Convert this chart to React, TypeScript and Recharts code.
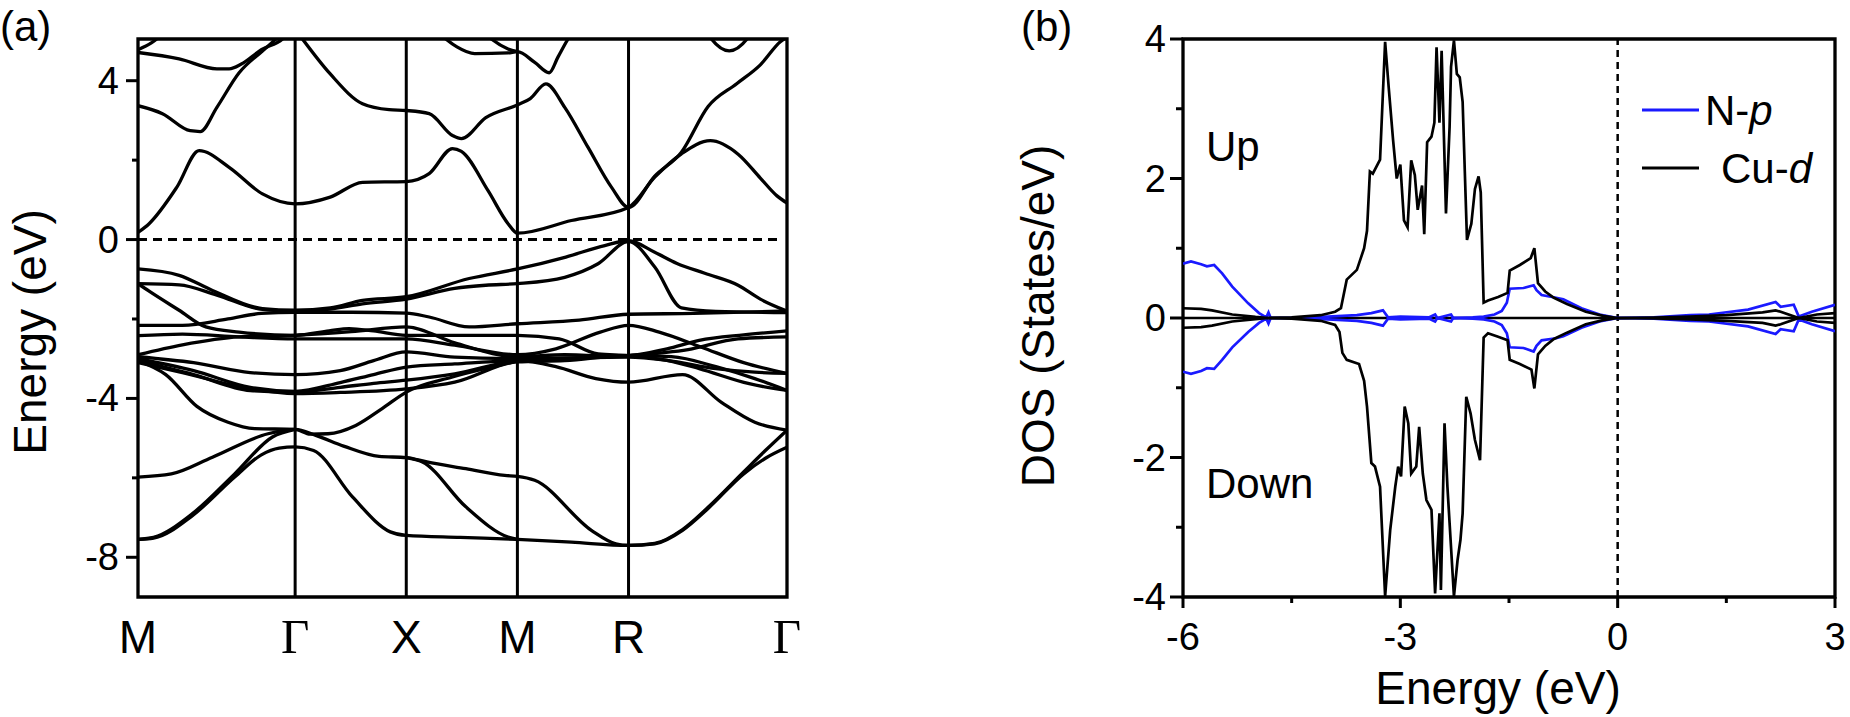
import React from 'react';
import { LineChart, Line, XAxis, YAxis, ReferenceLine, ReferenceArea, Legend } from 'recharts';

type Pt = [number, number];

const FONT = '"Liberation Sans", Arial, sans-serif';
const SERIF = '"Liberation Serif", "Times New Roman", serif';
const BLUE = '#1a1aff';

// ---------- (a) band structure ----------
// k-path positions of the high-symmetry points, as spaced in the figure
const K_POS = [0, 1.414, 2.414, 3.414, 4.414, 5.84];
const K_LABELS = ['M', 'Γ', 'X', 'M', 'R', 'Γ'];
const E_TICKS = [-8, -6, -4, -2, 0, 2, 4];

// conduction side
const C1: Pt[] = [[0,0.18],[0.1,0.4],[0.35,1.32],[0.55,2.24],[0.82,1.82],[1.12,1.15],[1.414,0.9],[1.73,1.07],[2.02,1.44],[2.414,1.46],[2.62,1.66],[2.83,2.29],[2.91,2.22],[3.15,1.23],[3.33,0.4],[3.414,0.16],[3.9,0.48],[4.414,0.81],[4.65,1.57],[4.89,2.16],[5.15,2.49],[5.4,2.15],[5.6,1.55],[5.75,1.1],[5.84,0.92]];
const U_B: Pt[] = [[0,3.37],[0.22,3.17],[0.47,2.74],[0.56,2.72],[0.71,3.33],[0.91,4.2],[1.12,4.75],[1.24,5.05],[1.32,5.3]];
const U_A: Pt[] = [[0,4.71],[0.37,4.55],[0.71,4.3],[0.82,4.3],[0.93,4.42],[1.11,4.78],[1.3,5.05],[1.37,5.25]];
const U_C: Pt[] = [[0,4.78],[0.12,4.95],[0.25,5.25]];
const U_TOP: Pt[] = [[1.414,5.3],[1.48,5.05],[1.73,4.17],[2.02,3.42],[2.26,3.27],[2.414,3.25],[2.62,3.17],[2.83,2.62],[2.91,2.54],[3.13,3.07],[3.414,3.39],[3.53,3.55],[3.67,3.92],[3.84,3.33],[4.05,2.32],[4.26,1.32],[4.414,0.81],[4.65,1.6],[4.89,2.2],[5.13,3.35],[5.39,3.93],[5.6,4.4],[5.78,4.98],[5.84,5.1]];
const U_XM: Pt[] = [[2.67,5.3],[2.77,5.05],[2.87,4.85],[3.03,4.68],[3.33,4.7],[3.414,4.73],[3.57,4.46],[3.7,4.2],[3.78,4.6],[3.87,5.05],[3.93,5.3]];
const U_M: Pt[] = [[3.08,5.3],[3.18,5.05],[3.33,4.8],[3.414,4.73]];
const U_RG: Pt[] = [[5.1,5.3],[5.16,5.05],[5.32,4.75],[5.48,5.05],[5.54,5.3]];

// valence side
const B1: Pt[] = [[0,-0.74],[0.37,-0.9],[0.67,-1.28],[1.12,-1.74],[1.414,-1.78],[1.73,-1.72],[2.02,-1.53],[2.414,-1.44],[2.98,-0.98],[3.414,-0.74],[3.85,-0.44],[4.2,-0.15],[4.414,-0.03],[4.65,-0.32],[4.85,-0.6],[5.1,-0.85],[5.4,-1.15],[5.6,-1.5],[5.84,-1.8]];
const B2: Pt[] = [[0,-1.11],[0.37,-1.14],[0.71,-1.4],[1.12,-1.76],[1.414,-1.8],[1.73,-1.75],[2.02,-1.62],[2.414,-1.5],[2.85,-1.23],[3.13,-1.15],[3.414,-1.11],[3.84,-0.95],[4.14,-0.61],[4.414,-0.05],[4.65,-0.69],[4.89,-1.72],[5.2,-1.81],[5.84,-1.84]];
const B3: Pt[] = [[0,-1.11],[0.1,-1.3],[0.37,-1.78],[0.61,-2.2],[0.91,-2.33],[1.414,-2.41],[1.72,-2.3],[1.9,-2.24],[2.12,-2.3],[2.414,-2.41],[2.85,-2.41],[3.414,-2.41],[3.79,-2.5],[4.14,-2.88],[4.414,-2.92],[4.76,-3.04],[5.05,-3.25],[5.5,-3.63],[5.84,-3.8]];
const B4: Pt[] = [[0,-2.16],[0.4,-2.16],[0.81,-2.0],[1.11,-1.86],[1.414,-1.83],[1.92,-1.83],[2.414,-1.85],[2.62,-1.95],[2.98,-2.2],[3.414,-2.12],[3.97,-2.03],[4.414,-1.88],[5.0,-1.86],[5.84,-1.8]];
const B5: Pt[] = [[0,-2.42],[0.4,-2.38],[0.91,-2.45],[1.414,-2.5],[1.92,-2.5],[2.414,-2.5],[2.85,-2.66],[3.414,-2.9],[3.76,-2.75],[4.16,-2.33],[4.414,-2.16],[4.69,-2.33],[5.07,-2.71],[5.45,-3.1],[5.84,-3.37]];
const B6: Pt[] = [[0,-2.9],[0.4,-2.65],[0.91,-2.45],[1.414,-2.41],[1.92,-2.32],[2.414,-2.2],[2.85,-2.6],[3.414,-2.95],[3.84,-2.9],[4.14,-2.92],[4.414,-2.92],[4.76,-2.75],[5.05,-2.54],[5.45,-2.4],[5.84,-2.3]];
const B7: Pt[] = [[0,-2.95],[0.5,-3.1],[1.01,-3.35],[1.414,-3.4],[1.82,-3.3],[2.12,-3.05],[2.414,-2.83],[2.85,-2.96],[3.414,-3.0],[3.84,-2.98],[4.414,-2.96],[4.76,-3.04],[5.2,-3.25],[5.55,-3.34],[5.84,-3.37]];
const B8: Pt[] = [[0,-3.0],[0.5,-3.3],[1.01,-3.72],[1.414,-3.82],[1.82,-3.6],[2.12,-3.4],[2.414,-3.21],[2.85,-3.13],[3.414,-3.05],[3.76,-3.2],[4.12,-3.5],[4.414,-3.59],[4.9,-3.4],[5.25,-4.1],[5.55,-4.6],[5.84,-4.8]];
const B9: Pt[] = [[0,-3.05],[0.5,-3.4],[1.01,-3.8],[1.414,-3.84],[1.82,-3.72],[2.12,-3.62],[2.414,-3.54],[2.85,-3.38],[3.414,-3.05],[3.84,-3.0],[4.414,-2.92],[4.95,-2.77],[5.4,-2.5],[5.84,-2.45]];
const B10: Pt[] = [[0,-3.1],[0.4,-3.35],[0.91,-3.7],[1.414,-3.88],[1.82,-3.85],[2.414,-3.76],[2.85,-3.59],[3.414,-3.08],[3.84,-3.05],[4.414,-2.92],[4.8,-2.95],[5.2,-3.2],[5.55,-3.5],[5.84,-3.8]];
const D1: Pt[] = [[0,-3.05],[0.25,-3.4],[0.53,-4.2],[0.81,-4.6],[1.05,-4.76],[1.414,-4.78],[1.55,-4.9],[1.71,-4.89],[1.96,-4.68],[2.2,-4.25],[2.414,-3.84],[2.83,-3.46],[3.36,-3.09],[3.414,-3.05]];
const D2: Pt[] = [[0,-5.98],[0.3,-5.9],[0.67,-5.48],[1.17,-4.89],[1.414,-4.78],[1.6,-4.93],[1.85,-5.2],[2.17,-5.46],[2.414,-5.49],[2.6,-5.6],[2.95,-5.77],[3.3,-5.94],[3.414,-5.96],[3.57,-6.06],[4.08,-7.32],[4.3,-7.66],[4.414,-7.7],[4.65,-7.65],[4.9,-7.3],[5.13,-6.74],[5.45,-5.85],[5.65,-5.3],[5.84,-4.8]];
const D3: Pt[] = [[0,-7.55],[0.14,-7.5],[0.49,-6.9],[0.87,-5.9],[1.21,-4.97],[1.414,-4.78]];
const D4: Pt[] = [[0,-7.55],[0.14,-7.52],[0.49,-6.95],[0.87,-5.98],[1.11,-5.42],[1.27,-5.25],[1.414,-5.22],[1.58,-5.31],[1.93,-6.48],[2.27,-7.36],[2.414,-7.45],[2.9,-7.5],[3.414,-7.55],[3.9,-7.62],[4.414,-7.7],[4.65,-7.66],[4.9,-7.32],[5.13,-6.77],[5.45,-5.9],[5.65,-5.5],[5.84,-5.23]];
const D5: Pt[] = [[2.414,-5.49],[2.56,-5.6],[2.95,-6.73],[3.33,-7.49],[3.414,-7.55]];

const BANDS: Pt[][] = [C1, U_B, U_A, U_C, U_TOP, U_XM, U_M, U_RG, B1, B2, B3, B4, B5, B6, B7, B8, B9, B10, D1, D2, D3, D4, D5];

// ---------- (b) density of states ----------
const DOS_X_TICKS = [-6, -4.5, -3, -1.5, 0, 1.5, 3];
const DOS_Y_TICKS = [-4, -3, -2, -1, 0, 1, 2, 3, 4];

const CU_D_UP: Pt[] = [[-6,0.14],[-5.75,0.13],[-5.6,0.11],[-5.32,0.05],[-5.0,0.015],[-4.82,0],[-4.5,0.01],[-4.1,0.04],[-3.9,0.09],[-3.82,0.14],[-3.74,0.55],[-3.6,0.69],[-3.5,1.0],[-3.46,1.25],[-3.42,2.1],[-3.38,2.07],[-3.28,2.27],[-3.21,3.96],[-3.16,3.3],[-3.1,2.55],[-3.05,2.0],[-3.0,2.2],[-2.95,1.4],[-2.9,1.3],[-2.85,2.26],[-2.8,2.05],[-2.76,1.55],[-2.7,1.9],[-2.67,1.2],[-2.63,2.52],[-2.57,2.6],[-2.53,2.8],[-2.5,3.88],[-2.46,2.8],[-2.43,3.83],[-2.37,1.5],[-2.32,2.74],[-2.3,3.6],[-2.26,3.98],[-2.22,3.5],[-2.18,3.45],[-2.14,3.1],[-2.11,2.1],[-2.08,1.12],[-2.02,1.35],[-1.97,1.85],[-1.92,2.03],[-1.89,1.8],[-1.85,0.22],[-1.79,0.25],[-1.65,0.3],[-1.52,0.36],[-1.49,0.68],[-1.35,0.76],[-1.2,0.86],[-1.15,1.0],[-1.1,0.5],[-1.0,0.38],[-0.88,0.29],[-0.7,0.2],[-0.44,0.09],[-0.2,0.03],[0,0],[0.5,0.005],[1.0,0.02],[1.5,0.04],[2.0,0.08],[2.18,0.11],[2.25,0.09],[2.5,0],[2.75,0.05],[3.0,0.07]];
const CU_D_DN: Pt[] = [[-6,-0.14],[-5.75,-0.13],[-5.6,-0.11],[-5.32,-0.05],[-5.0,-0.015],[-4.82,0],[-4.5,-0.01],[-4.1,-0.04],[-3.9,-0.1],[-3.84,-0.2],[-3.8,-0.5],[-3.74,-0.6],[-3.57,-0.66],[-3.5,-0.9],[-3.46,-1.27],[-3.4,-2.08],[-3.35,-2.13],[-3.28,-2.42],[-3.21,-3.99],[-3.14,-3.04],[-3.07,-2.42],[-3.03,-2.13],[-2.99,-2.27],[-2.94,-1.27],[-2.89,-1.51],[-2.85,-2.23],[-2.78,-2.13],[-2.74,-1.56],[-2.69,-2.23],[-2.64,-2.61],[-2.57,-2.75],[-2.52,-3.95],[-2.46,-2.8],[-2.44,-3.9],[-2.39,-1.51],[-2.35,-2.42],[-2.32,-2.94],[-2.26,-3.99],[-2.21,-3.47],[-2.17,-3.18],[-2.14,-2.8],[-2.09,-1.13],[-2.03,-1.37],[-1.97,-1.75],[-1.9,-2.04],[-1.85,-0.28],[-1.79,-0.22],[-1.65,-0.27],[-1.52,-0.32],[-1.49,-0.6],[-1.35,-0.66],[-1.19,-0.74],[-1.15,-1.01],[-1.1,-0.52],[-1.0,-0.4],[-0.88,-0.3],[-0.7,-0.21],[-0.44,-0.09],[-0.2,-0.03],[0,0],[0.5,-0.005],[1.0,-0.02],[1.5,-0.04],[2.0,-0.07],[2.18,-0.11],[2.25,-0.09],[2.5,0],[2.75,-0.05],[3.0,-0.07]];
const N_P_UP: Pt[] = [[-6,0.78],[-5.89,0.81],[-5.75,0.77],[-5.67,0.74],[-5.57,0.76],[-5.46,0.64],[-5.32,0.45],[-5.1,0.21],[-4.95,0.07],[-4.85,0.01],[-4.82,0.08],[-4.79,0],[-4.5,0],[-4.0,0.02],[-3.6,0.04],[-3.4,0.07],[-3.24,0.11],[-3.17,0.01],[-3.0,0.02],[-2.6,0.01],[-2.52,0.05],[-2.49,0],[-2.3,0.05],[-2.27,0],[-2.0,0.01],[-1.85,0.02],[-1.7,0.05],[-1.6,0.1],[-1.53,0.22],[-1.49,0.42],[-1.3,0.43],[-1.16,0.47],[-1.12,0.4],[-1.05,0.33],[-0.85,0.29],[-0.75,0.27],[-0.5,0.14],[-0.25,0.05],[0,0],[0.5,0.01],[1.0,0.04],[1.26,0.05],[1.8,0.12],[2.18,0.23],[2.25,0.16],[2.43,0.19],[2.5,0.02],[2.68,0.09],[3.0,0.19]];
const N_P_DN: Pt[] = [[-6,-0.77],[-5.89,-0.8],[-5.75,-0.76],[-5.67,-0.72],[-5.57,-0.73],[-5.46,-0.6],[-5.32,-0.42],[-5.1,-0.2],[-4.95,-0.07],[-4.85,-0.01],[-4.82,-0.08],[-4.79,0],[-4.5,0],[-4.0,-0.02],[-3.6,-0.04],[-3.4,-0.07],[-3.24,-0.11],[-3.17,-0.01],[-3.0,-0.02],[-2.6,-0.01],[-2.52,-0.05],[-2.49,0],[-2.3,-0.05],[-2.27,0],[-2.0,-0.01],[-1.85,-0.02],[-1.7,-0.05],[-1.6,-0.1],[-1.53,-0.22],[-1.49,-0.42],[-1.3,-0.43],[-1.16,-0.48],[-1.12,-0.4],[-1.05,-0.32],[-0.85,-0.29],[-0.75,-0.26],[-0.5,-0.14],[-0.25,-0.05],[0,0],[0.5,-0.01],[1.0,-0.04],[1.26,-0.05],[1.8,-0.12],[2.18,-0.23],[2.25,-0.16],[2.43,-0.19],[2.5,-0.02],[2.68,-0.09],[3.0,-0.19]];

// plot box edges (chart-local px)
const A_LEFT = 138;
const B_LEFT = 283;
const B_BOTTOM = 597;

const toBand = (pts: Pt[]) => pts.map(([k, e]) => ({ k, e }));
const toDos = (pts: Pt[]) => pts.map(([e, d]) => ({ e, d }));

function BandYTick(props: any) {
  const { y, payload } = props;
  const v = payload.value;
  const major = v % 4 === 0;
  return (
    <g>
      <line x1={A_LEFT - (major ? 12 : 6)} x2={A_LEFT} y1={y} y2={y} stroke="#000" strokeWidth={3} />
      {major && (
        <text x={A_LEFT - 19} y={y} textAnchor="end" dominantBaseline="central" fontSize={38} fontFamily={FONT} fill="#000">{v}</text>
      )}
    </g>
  );
}

function KTick(props: any) {
  const { x, payload } = props;
  let i = 0;
  K_POS.forEach((p, j) => { if (Math.abs(p - payload.value) < Math.abs(K_POS[i] - payload.value)) i = j; });
  const label = K_LABELS[i];
  const greek = label === 'Γ';
  return (
    <text x={x} y={653} textAnchor="middle" fontSize={greek ? 49 : 46} fontFamily={greek ? SERIF : FONT} fill="#000">{label}</text>
  );
}

function DosYTick(props: any) {
  const { y, payload } = props;
  const v = payload.value;
  const major = v % 2 === 0;
  return (
    <g>
      <line x1={B_LEFT - (major ? 13 : 7)} x2={B_LEFT} y1={y} y2={y} stroke="#000" strokeWidth={3} />
      {major && (
        <text x={B_LEFT - 17} y={y} textAnchor="end" dominantBaseline="central" fontSize={38} fontFamily={FONT} fill="#000">{v}</text>
      )}
    </g>
  );
}

function DosXTick(props: any) {
  const { x, payload } = props;
  const v = payload.value;
  const major = v % 3 === 0;
  return (
    <g>
      <line x1={x} x2={x} y1={B_BOTTOM} y2={B_BOTTOM + (major ? 11 : 6)} stroke="#000" strokeWidth={3} />
      {major && (
        <text x={x} y={650} textAnchor="middle" fontSize={38} fontFamily={FONT} fill="#000">{v}</text>
      )}
    </g>
  );
}

function DosLegend() {
  return (
    <svg width={200} height={100} style={{ overflow: 'visible' }}>
      <line x1={0} x2={57} y1={22} y2={22} stroke={BLUE} strokeWidth={3} />
      <text x={63} y={22} dominantBaseline="central" fontSize={42} fontFamily={FONT} fill="#000">
        N-<tspan fontStyle="italic">p</tspan>
      </text>
      <line x1={0} x2={57} y1={80} y2={80} stroke="#000" strokeWidth={3} />
      <text x={79} y={80} dominantBaseline="central" fontSize={42} fontFamily={FONT} fill="#000">
        Cu-<tspan fontStyle="italic">d</tspan>
      </text>
    </svg>
  );
}

function BandPanel() {
  return (
    <LineChart width={850} height={717} margin={{ top: 39, right: 63, bottom: 0, left: 0 }}>
      <XAxis dataKey="k" type="number" domain={[0, 5.84]} ticks={K_POS} height={120}
        axisLine={false} tickLine={false} tick={<KTick />} interval={0} allowDataOverflow />
      <YAxis type="number" domain={[-9, 5.05]} ticks={E_TICKS} width={138}
        axisLine={false} tickLine={false} tick={<BandYTick />} interval={0} allowDataOverflow />
      {K_POS.slice(1, 5).map((k, i) => (
        <ReferenceLine key={'v' + i} x={k} stroke="#000" strokeWidth={3} />
      ))}
      <ReferenceLine segment={[{ x: 0, y: 0 }, { x: 5.77, y: 0 }]} stroke="#000" strokeWidth={3} strokeDasharray="9 6" />
      {BANDS.map((b, i) => (
        <Line key={i} data={toBand(b)} dataKey="e" type="monotone" stroke="#000" strokeWidth={3.3}
          dot={false} activeDot={false} isAnimationActive={false} legendType="none" />
      ))}
      <ReferenceArea x1={0} x2={5.84} y1={-9} y2={5.05} fill="none" stroke="#000" strokeWidth={3.3} ifOverflow="visible" />
    </LineChart>
  );
}

function DosPanel() {
  return (
    <LineChart width={950} height={717} margin={{ top: 39, right: 15, bottom: 0, left: 0 }}>
      <XAxis dataKey="e" type="number" domain={[-6, 3]} ticks={DOS_X_TICKS} height={120}
        axisLine={false} tickLine={false} tick={<DosXTick />} interval={0} allowDataOverflow />
      <YAxis type="number" domain={[-4, 4]} ticks={DOS_Y_TICKS} width={283}
        axisLine={false} tickLine={false} tick={<DosYTick />} interval={0} allowDataOverflow />
      <ReferenceLine y={0} stroke="#000" strokeWidth={2.5} />
      <ReferenceLine x={0} stroke="#000" strokeWidth={2.5} strokeDasharray="7 5" />
      <Line data={toDos(N_P_UP)} dataKey="d" type="linear" stroke={BLUE} strokeWidth={2.7} dot={false} activeDot={false} isAnimationActive={false} />
      <Line data={toDos(N_P_DN)} dataKey="d" type="linear" stroke={BLUE} strokeWidth={2.7} dot={false} activeDot={false} isAnimationActive={false} />
      <Line data={toDos(CU_D_UP)} dataKey="d" type="linear" stroke="#000" strokeWidth={2.7} dot={false} activeDot={false} isAnimationActive={false} />
      <Line data={toDos(CU_D_DN)} dataKey="d" type="linear" stroke="#000" strokeWidth={2.7} dot={false} activeDot={false} isAnimationActive={false} />
      <ReferenceArea x1={-6} x2={3} y1={-4} y2={4} fill="none" stroke="#000" strokeWidth={3.3} ifOverflow="visible" />
      <Legend layout="vertical" align="center" verticalAlign="middle" content={() => <DosLegend />}
        wrapperStyle={{ position: 'absolute', left: 742, top: 88, width: 200, height: 100 }} />
    </LineChart>
  );
}

export default function App() {
  return (
    <div style={{ position: 'absolute', left: 0, top: 0, width: 1850, height: 717, background: '#fff', fontFamily: FONT }}>
      <div style={{ position: 'absolute', left: 0, top: 0 }}>
        <BandPanel />
      </div>
      <div style={{ position: 'absolute', left: 900, top: 0 }}>
        <DosPanel />
      </div>
      <svg width={1850} height={717} style={{ position: 'absolute', left: 0, top: 0, pointerEvents: 'none' }}>
        <text x={0} y={41} fontSize={42} fontFamily={FONT} fill="#000">(a)</text>
        <text x={1021} y={41} fontSize={42} fontFamily={FONT} fill="#000">(b)</text>
        <text x={30} y={332} transform="rotate(-90 30 332)" textAnchor="middle" dominantBaseline="central" fontSize={46} fontFamily={FONT} fill="#000">Energy (eV)</text>
        <text x={1038} y={316} transform="rotate(-90 1038 316)" textAnchor="middle" dominantBaseline="central" fontSize={46} fontFamily={FONT} fill="#000">DOS (States/eV)</text>
        <text x={1498} y={704} textAnchor="middle" fontSize={46} fontFamily={FONT} fill="#000">Energy (eV)</text>
        <text x={1206} y={161} fontSize={42} fontFamily={FONT} fill="#000">Up</text>
        <text x={1206} y={498} fontSize={42} fontFamily={FONT} fill="#000">Down</text>
      </svg>
    </div>
  );
}
